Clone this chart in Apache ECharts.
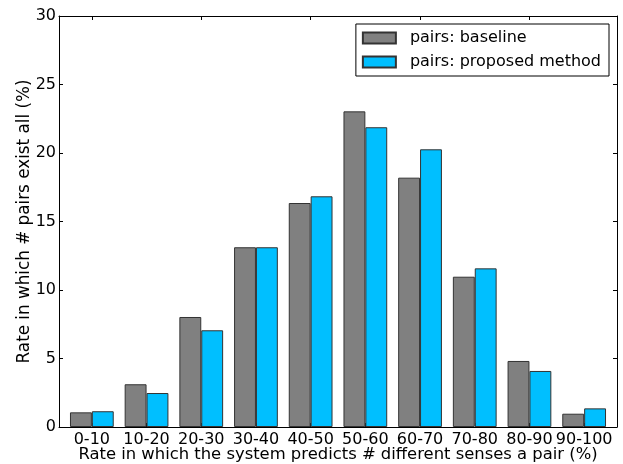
<!DOCTYPE html>
<html>
<head>
<meta charset="utf-8">
<script src="https://cdn.jsdelivr.net/npm/echarts@6/dist/echarts.min.js"></script>
<style>
  html, body { margin: 0; padding: 0; background: #fff; }
  #chart { width: 623px; height: 464px; }
</style>
</head>
<body>
<div id="chart"></div>
<script>
// Share of pairs per predicted-rate bucket (%)
const categories = ['0-10', '10-20', '20-30', '30-40', '40-50', '50-60', '60-70', '70-80', '80-90', '90-100'];
const baseline = [1.07, 3.12, 8.03, 13.12, 16.35, 23.04, 18.2, 10.97, 4.82, 0.97];
const proposed = [1.15, 2.48, 7.06, 13.12, 16.84, 21.88, 20.27, 11.58, 4.09, 1.36];
const seriesNames = ['pairs: baseline', 'pairs: proposed method'];
const yMin = 0, yMax = 30, yStep = 5;

const FONT = 'DejaVu Sans';
const chart = echarts.init(document.getElementById('chart'), null, { renderer: 'canvas' });

const frameLine = { show: true, onZero: false, lineStyle: { color: '#000', width: 1 } };
const tickStyle = { show: true, inside: true, length: 4, lineStyle: { color: '#000', width: 1 } };

chart.setOption({
  backgroundColor: '#fff',
  animation: false,
  textStyle: { fontFamily: FONT },
  grid: [
    // outer frame + y scale
    { left: 59, top: 16, width: 558, height: 411, containLabel: false, outerBoundsMode: 'none' },
    // bar area, inset so groups sit with equal margins to the frame
    { left: 64.5, top: 16, width: 547, height: 411, containLabel: false, outerBoundsMode: 'none' }
  ],
  legend: {
    orient: 'vertical',
    right: 14,
    top: 24,
    backgroundColor: '#fff',
    borderColor: '#000',
    borderWidth: 1,
    borderRadius: 0,
    padding: [6, 8, 6, 6],
    icon: 'rect',
    itemWidth: 33,
    itemHeight: 11,
    itemGap: 8,
    textStyle: { fontFamily: FONT, fontSize: 16, color: '#000', padding: [0, 0, 0, 9] },
    data: seriesNames
  },
  xAxis: [
    {
      gridIndex: 0, type: 'value', min: 0, max: 1, position: 'bottom',
      axisLine: frameLine, axisTick: { show: false }, axisLabel: { show: false }, splitLine: { show: false },
      name: 'Rate in which the system predicts # different senses a pair (%)',
      nameLocation: 'middle', nameGap: 20, nameMoveOverlap: false,
      nameTextStyle: { fontFamily: FONT, fontSize: 16.4, color: '#000' }
    },
    {
      gridIndex: 0, type: 'value', min: 0, max: 1, position: 'top',
      axisLine: frameLine, axisTick: { show: false }, axisLabel: { show: false }, splitLine: { show: false }
    },
    {
      gridIndex: 1, type: 'category', data: categories, position: 'bottom',
      axisLine: { show: false, onZero: false },
      axisTick: Object.assign({ alignWithLabel: true }, tickStyle),
      axisLabel: { fontFamily: FONT, fontSize: 16, color: '#000', margin: 5, interval: 0 },
      splitLine: { show: false }
    },
    {
      gridIndex: 1, type: 'category', data: categories, position: 'top',
      axisLine: { show: false, onZero: false },
      axisTick: Object.assign({ alignWithLabel: true }, tickStyle),
      axisLabel: { show: false },
      splitLine: { show: false }
    }
  ],
  yAxis: [
    {
      gridIndex: 0, type: 'value', min: yMin, max: yMax, interval: yStep, position: 'left',
      axisLine: frameLine, axisTick: tickStyle,
      axisLabel: { fontFamily: FONT, fontSize: 16, color: '#000', margin: 3 },
      splitLine: { show: false },
      name: 'Rate in which # pairs exist all (%)',
      nameLocation: 'middle', nameGap: 26, nameRotate: 90, nameMoveOverlap: false,
      nameTextStyle: { fontFamily: FONT, fontSize: 16.8, color: '#000' }
    },
    {
      gridIndex: 0, type: 'value', min: yMin, max: yMax, interval: yStep, position: 'right',
      axisLine: frameLine, axisTick: tickStyle, axisLabel: { show: false }, splitLine: { show: false }
    },
    {
      gridIndex: 1, type: 'value', min: yMin, max: yMax, show: false
    }
  ],
  series: [
    {
      name: seriesNames[0], type: 'bar', xAxisIndex: 2, yAxisIndex: 2,
      data: baseline, barGap: '0%', barCategoryGap: '20%',
      itemStyle: { color: '#808080', borderColor: '#333', borderWidth: 1 }
    },
    {
      name: seriesNames[1], type: 'bar', xAxisIndex: 2, yAxisIndex: 2,
      data: proposed, barGap: '0%', barCategoryGap: '20%',
      itemStyle: { color: '#00BFFF', borderColor: '#333', borderWidth: 1 }
    }
  ]
});
</script>
</body>
</html>
